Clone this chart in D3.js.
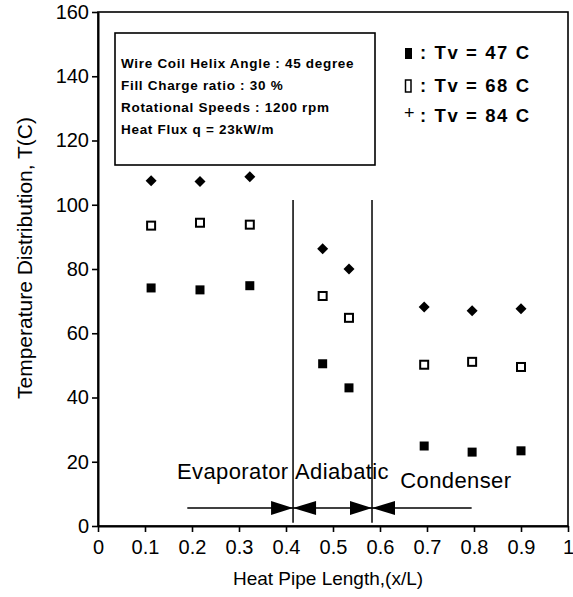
<!DOCTYPE html>
<html>
<head>
<meta charset="utf-8">
<script src="https://cdn.jsdelivr.net/npm/d3@7"></script>
<style>
  body { margin: 0; background: #fff; }
  text { font-family: "Liberation Sans", Arial, sans-serif; fill: #000; }
</style>
</head>
<body>
<div id="chart"></div>
<script>
// data
var xPos = [0.113, 0.217, 0.323, 0.478, 0.534, 0.694, 0.796, 0.9];
var tv47 = [74.1, 73.5, 74.8, 50.5, 43.0, 24.9, 23.0, 23.4];
var tv68 = [93.5, 94.4, 93.8, 71.6, 64.8, 50.2, 51.1, 49.5];
var tv84 = [107.5, 107.2, 108.7, 86.3, 80.0, 68.2, 67.0, 67.6];
var legendLabels = ["Tv = 47 C", "Tv = 68 C", "Tv = 84 C"];
var infoLines = ["Wire Coil Helix Angle : 45 degree", "Fill Charge ratio : 30 %",
                 "Rotational Speeds : 1200 rpm", "Heat Flux q = 23kW/m"];
var regionNames = ["Evaporator", "Adiabatic", "Condenser"];
var regionBounds = [0.415, 0.583];
var arrowSpan = [0.19, 0.795];
var arrowLevel = 5.6;
var dividerTop = 101.5;
var xTicks = [0, 0.1, 0.2, 0.3, 0.4, 0.5, 0.6, 0.7, 0.8, 0.9, 1];
var yTicks = [0, 20, 40, 60, 80, 100, 120, 140, 160];

var margin = {top: 12, right: 5, bottom: 71, left: 98},
    width = 573 - margin.left - margin.right,
    height = 597 - margin.top - margin.bottom;

var svg = d3.select("#chart").append("svg")
    .attr("width", 573)
    .attr("height", 597);

var g = svg.append("g")
    .attr("transform", "translate(" + margin.left + "," + margin.top + ")");

var x = d3.scaleLinear().domain([0, 1]).range([0, width]);
var y = d3.scaleLinear().domain([0, 160]).range([height, 0]);

// frame
g.append("rect")
    .attr("width", width).attr("height", height)
    .attr("fill", "none").attr("stroke", "#000").attr("stroke-width", 1.6);

var xAxis = g.append("g")
    .attr("transform", "translate(0," + height + ")")
    .call(d3.axisBottom(x).tickValues(xTicks).tickSize(6).tickSizeOuter(0)
        .tickFormat(function(d) { return (d === 0 || d === 1) ? d : d.toFixed(1); }));
var yAxis = g.append("g")
    .call(d3.axisLeft(y).tickValues(yTicks).tickSize(6).tickSizeOuter(0));

[xAxis, yAxis].forEach(function(a) {
    a.select(".domain").attr("stroke-width", 2);
    a.selectAll(".tick line").attr("stroke-width", 1.6);
    a.selectAll("text").style("font-size", "20px")
        .style("font-family", "'Liberation Sans', Arial, sans-serif");
});
xAxis.selectAll("text").attr("dy", "0.95em");
yAxis.selectAll("text").attr("x", -9);

// axis titles
svg.append("text")
    .attr("x", margin.left + width / 2 - 5)
    .attr("y", 585)
    .style("text-anchor", "middle")
    .style("font-size", "19px")
    .text("Heat Pipe Length,(x/L)");

svg.append("text")
    .attr("transform", "translate(32,258) rotate(-90)")
    .style("text-anchor", "middle")
    .style("font-size", "21px")
    .text("Temperature Distribution, T(C)");

// region dividers
g.selectAll(".divider")
    .data(regionBounds)
    .enter().append("line")
        .attr("x1", function(d) { return x(d); })
        .attr("x2", function(d) { return x(d); })
        .attr("y1", y(dividerTop))
        .attr("y2", y(1))
        .attr("stroke", "#000")
        .attr("stroke-width", 1.5);

// arrow line with heads at the dividers
g.append("line")
    .attr("x1", x(arrowSpan[0])).attr("x2", x(arrowSpan[1]))
    .attr("y1", y(arrowLevel)).attr("y2", y(arrowLevel))
    .attr("stroke", "#000").attr("stroke-width", 1.3);

var heads = [];
regionBounds.forEach(function(b) { heads.push({at: b, dir: 1}); heads.push({at: b, dir: -1}); });
g.selectAll(".head")
    .data(heads)
    .enter().append("path")
        .attr("transform", function(d) { return "translate(" + x(d.at) + "," + y(arrowLevel) + ")"; })
        .attr("d", function(d) { return d.dir > 0 ? "M0,0L-22,-7L-22,7Z" : "M0,0L23,-7L23,7Z"; })
        .attr("fill", "#000");

// region names
var regionX = [0.168, 0.419, 0.643];
var regionY = [14.6, 14.6, 11.8];
g.selectAll(".region")
    .data(regionNames)
    .enter().append("text")
        .attr("x", function(d, i) { return x(regionX[i]); })
        .attr("y", function(d, i) { return y(regionY[i]); })
        .style("font-size", "22px")
        .style("letter-spacing", "0.4px")
        .text(function(d) { return d; });

// markers
var pts = function(vals) { return vals.map(function(v, i) { return {x: xPos[i], v: v}; }); };

g.selectAll(".p47")
    .data(pts(tv47))
    .enter().append("rect")
        .attr("x", function(d) { return x(d.x) - 4.5; })
        .attr("y", function(d) { return y(d.v) - 4.5; })
        .attr("width", 9).attr("height", 9)
        .attr("fill", "#000");

g.selectAll(".p68")
    .data(pts(tv68))
    .enter().append("rect")
        .attr("x", function(d) { return x(d.x) - 4; })
        .attr("y", function(d) { return y(d.v) - 4; })
        .attr("width", 8).attr("height", 8)
        .attr("fill", "#fff").attr("stroke", "#000").attr("stroke-width", 2);

g.selectAll(".p84")
    .data(pts(tv84))
    .enter().append("path")
        .attr("transform", function(d) { return "translate(" + x(d.x) + "," + y(d.v) + ")"; })
        .attr("d", "M0,-5.5L5.5,0L0,5.5L-5.5,0Z")
        .attr("fill", "#000");

// info box
svg.append("rect")
    .attr("x", 115).attr("y", 33).attr("width", 260).attr("height", 132)
    .attr("fill", "#fff").attr("stroke", "#000").attr("stroke-width", 1.6);

svg.selectAll(".info")
    .data(infoLines)
    .enter().append("text")
        .attr("x", 121)
        .attr("y", function(d, i) { return 68 + i * 22; })
        .style("font-size", "13.5px")
        .style("font-weight", "bold")
        .style("letter-spacing", "0.7px")
        .text(function(d) { return d; });

// legend
var legend = svg.append("g").attr("transform", "translate(404,0)");
var legendY = [59, 92, 122];
legend.append("rect").attr("x", 1).attr("y", 48).attr("width", 7).attr("height", 11).attr("fill", "#000");
legend.append("rect").attr("x", 1.5).attr("y", 80).attr("width", 5.5).attr("height", 12)
    .attr("fill", "none").attr("stroke", "#000").attr("stroke-width", 1.5);
legend.append("text").attr("x", 0).attr("y", 119).style("font-size", "18px").text("+");

legend.selectAll(".leg")
    .data(legendLabels)
    .enter().append("text")
        .attr("x", 16)
        .attr("y", function(d, i) { return legendY[i]; })
        .style("font-size", "18.5px")
        .style("font-weight", "bold")
        .style("letter-spacing", "1.6px")
        .text(function(d) { return ": " + d; });
</script>
</body>
</html>
